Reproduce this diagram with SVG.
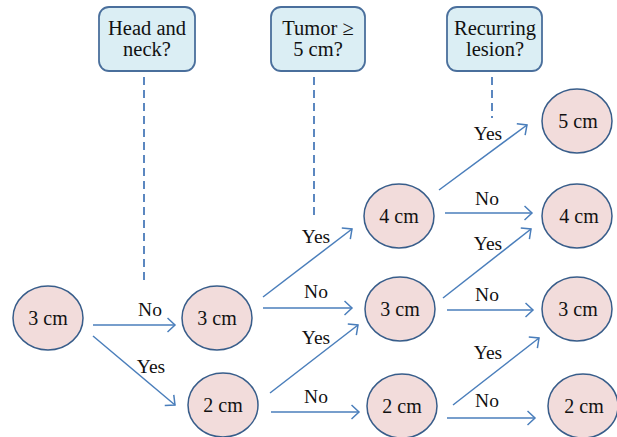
<svg xmlns="http://www.w3.org/2000/svg" width="617" height="437" viewBox="0 0 617 437">
<style>
.q rect{fill:#dbeef4;stroke:#4a6f9c;stroke-width:1.8}
.n ellipse{fill:#f2dcdb;stroke:#385d8a;stroke-width:1.5}
.dash{stroke:#5b87c0;stroke-width:2;stroke-dasharray:8,5;fill:none}
.arr{stroke:#4a7ebb;stroke-width:1.5;fill:none;marker-end:url(#ah)}
</style>
<defs>
<marker id="ah" viewBox="0 0 10 16" refX="8.5" refY="8" markerWidth="10" markerHeight="16" markerUnits="userSpaceOnUse" orient="auto">
<path d="M1,1 L8.5,8 L1,15" fill="none" stroke="#4a7ebb" stroke-width="1.5"/>
</marker>
</defs>
<rect width="617" height="437" fill="#fff"/>
<g font-family="Liberation Serif" font-size="20" fill="#111" text-anchor="middle">
<g id="q1" class="q" font-size="20.5"><rect x="99" y="7" width="96" height="64" rx="10"/><text x="147" y="35">Head and</text><text x="147" y="56">neck?</text></g>
<g id="q2" class="q" font-size="20.5"><rect x="271" y="7" width="94" height="64" rx="10"/><text x="318" y="35">Tumor ≥</text><text x="318" y="56">5 cm?</text></g>
<g id="q3" class="q" font-size="20.5"><rect x="447" y="7" width="95" height="64" rx="10"/><text x="495" y="35">Recurring</text><text x="495" y="56">lesion?</text></g>
<g id="n0" class="n"><ellipse cx="48" cy="318" rx="35" ry="32"/><text x="48" y="325">3 cm</text></g>
<g id="n1a" class="n"><ellipse cx="217" cy="318" rx="35" ry="32"/><text x="217" y="325">3 cm</text></g>
<g id="n1b" class="n"><ellipse cx="223" cy="405" rx="35" ry="32"/><text x="223" y="412">2 cm</text></g>
<g id="n2a" class="n"><ellipse cx="399" cy="216" rx="35" ry="32"/><text x="399" y="223">4 cm</text></g>
<g id="n2b" class="n"><ellipse cx="400" cy="309" rx="35" ry="32"/><text x="400" y="316">3 cm</text></g>
<g id="n2c" class="n"><ellipse cx="402" cy="406" rx="35" ry="32"/><text x="402" y="413">2 cm</text></g>
<g id="n3a" class="n"><ellipse cx="577" cy="121" rx="35" ry="32"/><text x="578" y="128">5 cm</text></g>
<g id="n3b" class="n"><ellipse cx="577" cy="216" rx="35" ry="32"/><text x="579" y="223">4 cm</text></g>
<g id="n3c" class="n"><ellipse cx="577" cy="309" rx="35" ry="32"/><text x="578" y="316">3 cm</text></g>
<g id="n3d" class="n"><ellipse cx="583" cy="406" rx="35" ry="32"/><text x="584" y="413">2 cm</text></g>
</g>
<g id="connectors">
<line class="dash" x1="144" y1="77" x2="144" y2="285"/>
<line class="dash" x1="314" y1="77" x2="314" y2="218"/>
<line class="dash" x1="492" y1="77" x2="492" y2="118"/>
<line class="arr" x1="93" y1="325" x2="175" y2="325"/>
<line class="arr" x1="93" y1="336" x2="175" y2="405"/>
<line class="arr" x1="263" y1="297" x2="352" y2="229"/>
<line class="arr" x1="263" y1="308" x2="352" y2="308"/>
<line class="arr" x1="270" y1="393" x2="358" y2="325"/>
<line class="arr" x1="271" y1="412" x2="359" y2="412"/>
<line class="arr" x1="439" y1="190" x2="527" y2="125"/>
<line class="arr" x1="445" y1="213" x2="532" y2="213"/>
<line class="arr" x1="443" y1="298" x2="531" y2="229"/>
<line class="arr" x1="447" y1="310" x2="533" y2="310"/>
<line class="arr" x1="453" y1="405" x2="539" y2="338"/>
<line class="arr" x1="447" y1="418" x2="535" y2="418"/>
</g>
<g id="labels" font-family="Liberation Serif" font-size="19.5" fill="#111" text-anchor="middle">
<text x="150" y="316">No</text>
<text x="151" y="373">Yes</text>
<text x="316" y="243">Yes</text>
<text x="316" y="298">No</text>
<text x="316" y="344">Yes</text>
<text x="316" y="403">No</text>
<text x="488" y="140">Yes</text>
<text x="487" y="205">No</text>
<text x="488" y="250">Yes</text>
<text x="487" y="301">No</text>
<text x="488" y="359">Yes</text>
<text x="487" y="407">No</text>
</g>
</svg>
